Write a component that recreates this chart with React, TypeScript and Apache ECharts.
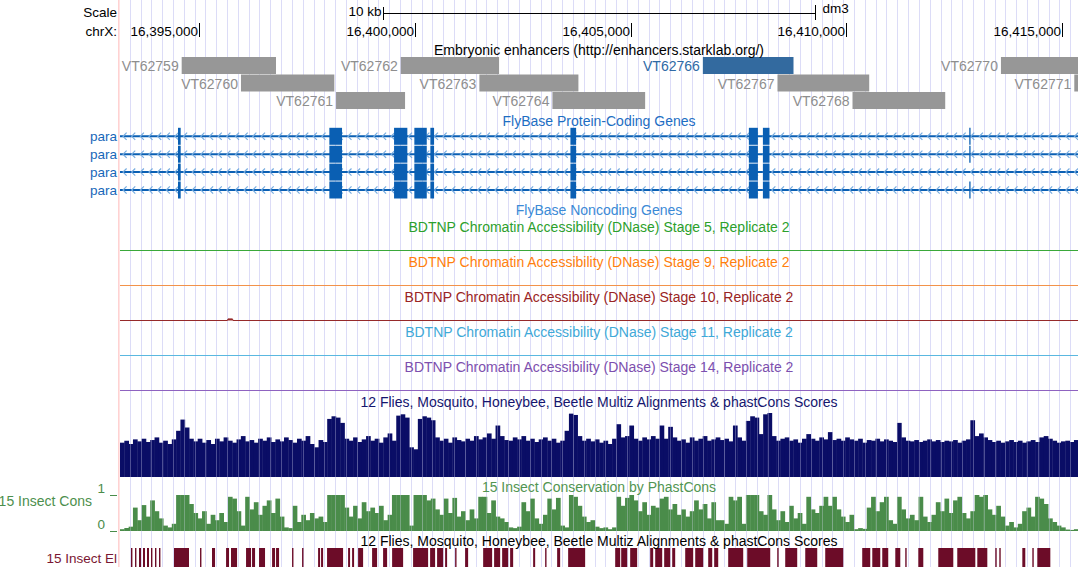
import React, { useEffect, useRef } from "react";
import * as echarts from "echarts";

// ---- Browser window (chrX, dm3) ----
const VIEW_START = 16393170;
const VIEW_END = 16415364;
const POSITION_TICKS = [16395000, 16400000, 16405000, 16410000, 16415000];
const SCALE_BAR_BP = 10000;
const SCALE_BAR_LABEL = "10 kb";
const ASSEMBLY = "dm3";
const CHROM_LABEL = "chrX:";

// ---- Embryonic enhancers (Stark lab VT tiles) ----
const ENHANCER_NAMES = ["VT62759", "VT62760", "VT62761", "VT62762", "VT62763", "VT62764", "VT62766", "VT62767", "VT62768", "VT62770", "VT62771"];
const ENHANCER_STARTS = [16394599, 16395973, 16398175, 16399674, 16401496, 16403188, 16406673, 16408402, 16410140, 16413579, 16415278];
const ENHANCER_ENDS = [16396784, 16398135, 16399774, 16401952, 16403790, 16405336, 16408773, 16410527, 16412288, 16415750, 16417400];
const ENHANCER_ROWS = [0, 1, 2, 0, 1, 2, 0, 1, 2, 0, 1];
const ENHANCER_ACTIVE = ["VT62766"];

// ---- FlyBase protein-coding gene "para", four isoforms ----
const GENE_NAMES = ["para", "para", "para", "para"];
const PARA_SHARED_EXONS = [
  [16394513, 16394576],
  [16398020, 16398314],
  [16399519, 16399827],
  [16399989, 16400277],
  [16400360, 16400446],
  [16403605, 16403737],
  [16407739, 16407948],
  [16408064, 16408217],
];
const PARA_ISOFORM_EXTRA_EXONS = [
  [[16412845, 16412868]],
  [[16412845, 16412868]],
  [],
  [[16412845, 16412868]],
];

// ---- BDTNP DNase accessibility (flat over this window) ----
const DNASE_TITLES = [
  "BDTNP Chromatin Accessibility (DNase) Stage 5, Replicate 2",
  "BDTNP Chromatin Accessibility (DNase) Stage 9, Replicate 2",
  "BDTNP Chromatin Accessibility (DNase) Stage 10, Replicate 2",
  "BDTNP Chromatin Accessibility (DNase) Stage 11, Replicate 2",
  "BDTNP Chromatin Accessibility (DNase) Stage 14, Replicate 2",
];
const DNASE_STAGE5 = [[VIEW_START, 0], [VIEW_END, 0]];
const DNASE_STAGE9 = [[VIEW_START, 0], [VIEW_END, 0]];
const DNASE_STAGE10 = [[VIEW_START, 0], [16395660, 0], [16395672, 0.08], [16395776, 0.08], [16395788, 0], [VIEW_END, 0]];
const DNASE_STAGE11 = [[VIEW_START, 0], [VIEW_END, 0]];
const DNASE_STAGE14 = [[VIEW_START, 0], [VIEW_END, 0]];

// ---- Conservation wiggles, fixedStep from VIEW_START ----
const WIG_STEP = 100;
const MULTIZ_SCORES = [
  0.52, 0.55, 0.50, 0.57, 0.54, 0.58, 0.53, 0.56, 0.60, 0.52,
  0.55, 0.50, 0.57, 0.70, 0.87, 0.75, 0.58, 0.54, 0.58, 0.52,
  0.56, 0.50, 0.58, 0.54, 0.60, 0.55, 0.52, 0.57, 0.62, 0.54,
  0.56, 0.52, 0.58, 0.55, 0.60, 0.53, 0.57, 0.54, 0.60, 0.56,
  0.52, 0.58, 0.55, 0.62, 0.50, 0.45, 0.56, 0.53, 0.88, 0.92,
  0.90, 0.82, 0.58, 0.55, 0.60, 0.53, 0.57, 0.62, 0.55, 0.58,
  0.52, 0.60, 0.66, 0.55, 0.93, 0.95, 0.90, 0.45, 0.42, 0.88,
  0.92, 0.90, 0.86, 0.60, 0.55, 0.58, 0.52, 0.60, 0.56, 0.54,
  0.58, 0.55, 0.62, 0.57, 0.60, 0.66, 0.58, 0.78, 0.62, 0.56,
  0.55, 0.60, 0.57, 0.62, 0.55, 0.58, 0.53, 0.57, 0.60, 0.55,
  0.58, 0.52, 0.55, 0.70, 0.96, 0.94, 0.62, 0.55, 0.58, 0.54,
  0.57, 0.52, 0.55, 0.50, 0.58, 0.80, 0.60, 0.62, 0.78, 0.58,
  0.55, 0.60, 0.57, 0.62, 0.58, 0.78, 0.58, 0.76, 0.60, 0.55,
  0.57, 0.52, 0.60, 0.55, 0.58, 0.62, 0.55, 0.57, 0.60, 0.56,
  0.58, 0.54, 0.78, 0.60, 0.55, 0.85, 0.92, 0.90, 0.65, 0.95,
  0.97, 0.62, 0.55, 0.58, 0.60, 0.55, 0.57, 0.52, 0.58, 0.65,
  0.58, 0.55, 0.60, 0.57, 0.68, 0.56, 0.58, 0.55, 0.60, 0.57,
  0.55, 0.58, 0.52, 0.56, 0.55, 0.58, 0.54, 0.57, 0.55, 0.53,
  0.82, 0.60, 0.55, 0.54, 0.56, 0.53, 0.55, 0.57, 0.54, 0.56,
  0.53, 0.55, 0.54, 0.56, 0.52, 0.55, 0.57, 0.86, 0.62, 0.66,
  0.60, 0.56, 0.53, 0.55, 0.52, 0.54, 0.56, 0.53, 0.55, 0.52,
  0.54, 0.56, 0.53, 0.60, 0.62, 0.58, 0.55, 0.52, 0.54, 0.55,
  0.53, 0.56,
];
const PHASTCONS_SCORES = [
  0.05, 0.08, 0.12, 0.65, 0.30, 0.72, 0.40, 0.85, 0.55, 0.35,
  0.15, 0.10, 0.20, 1, 1, 1, 0.75, 0.50, 0.35, 0.55,
  0.20, 0.45, 0.30, 0.50, 0.25, 0.95, 0.90, 0.55, 0.15, 0.95,
  0.60, 0.80, 0.45, 0.70, 0.85, 0.50, 0.90, 0.40, 0.10, 0.08,
  0.70, 0.25, 0.45, 0.30, 0.50, 0.35, 0.40, 0.25, 1, 1,
  1, 1, 0.65, 0.40, 0.70, 0.35, 0.80, 0.55, 0.65, 0.50,
  0.70, 0.30, 0.45, 1, 1, 1, 1, 0.15, 1, 1,
  1, 0.85, 0.90, 0.60, 0.45, 0.90, 0.50, 0.92, 0.40, 0.55,
  0.30, 0.60, 0.35, 0.95, 0.95, 0.50, 0.85, 0.40, 0.35, 0.25,
  0.10, 0.08, 0.12, 0.80, 0.55, 0.90, 0.35, 0.20, 0.45, 0.90,
  0.60, 0.92, 0.15, 0.10, 1, 0.95, 0.70, 0.40, 0.25, 0.30,
  0.12, 0.08, 0.10, 0.05, 0.10, 0.95, 0.70, 0.92, 1, 0.85,
  0.55, 0.80, 0.45, 0.70, 0.65, 0.90, 0.95, 0.60, 0.75, 0.45,
  0.60, 0.40, 0.55, 0.85, 0.60, 0.75, 0.35, 0.80, 0.30, 0.30,
  0.20, 0.95, 0.85, 0.95, 0.20, 1, 1, 1, 0.55, 0.45,
  1, 0.60, 0.30, 0.55, 0.25, 0.70, 0.35, 0.50, 0.20, 0.95,
  0.60, 0.50, 0.70, 0.95, 0.70, 0.95, 0.60, 0.40, 0.25, 0.45,
  0.05, 0.08, 0.06, 0.65, 0.95, 0.55, 0.80, 0.95, 0.30, 0.20,
  0.95, 0.60, 0.35, 0.45, 0.30, 0.95, 0.40, 0.25, 0.45, 0.80,
  0.55, 0.90, 0.50, 0.85, 0.95, 0.50, 0.35, 0.55, 1, 0.95,
  1, 0.60, 0.45, 0.70, 0.40, 0.15, 0.25, 0.10, 0.20, 0.55,
  0.65, 0.40, 0.95, 0.90, 0.75, 0.35, 0.25, 0.15, 0.10, 0.04,
  0.03, 0.05,
];

// ---- 15 insect conserved elements ----
const CONSERVED_ELEMENTS = [
  [16393425, 16393448], [16393518, 16393541], [16393610, 16393657], [16393703, 16393749],
  [16393796, 16393842], [16393888, 16393912], [16393981, 16394004], [16394074, 16394097],
  [16394421, 16394769], [16395024, 16395047], [16395302, 16395372], [16395627, 16395696],
  [16395742, 16395882], [16396090, 16396206], [16396229, 16396299], [16396391, 16396530],
  [16396693, 16396762], [16396785, 16396855], [16397156, 16397179], [16397388, 16397411],
  [16397759, 16397805], [16397828, 16397875], [16397967, 16398338], [16398454, 16398500],
  [16398547, 16398593], [16398686, 16398802], [16399010, 16399126], [16399265, 16399358],
  [16399474, 16399729], [16399960, 16400308], [16400354, 16400470], [16400516, 16400656],
  [16400702, 16400748], [16400934, 16400957], [16401165, 16401235], [16401583, 16401791],
  [16401837, 16401977], [16402023, 16402162], [16402208, 16402278], [16402741, 16402788],
  [16403019, 16403043], [16403297, 16403367], [16403552, 16403946], [16404642, 16404758],
  [16404781, 16404920], [16404989, 16405151], [16405453, 16405522], [16405569, 16405731],
  [16405777, 16405916], [16405963, 16406032], [16406264, 16406449], [16406496, 16406681],
  [16406797, 16406890], [16406936, 16407029], [16407260, 16407608], [16407701, 16408234],
  [16408396, 16408419], [16408581, 16408859], [16409045, 16409323], [16409508, 16409925],
  [16410365, 16410551], [16410598, 16410783], [16410829, 16410968], [16411131, 16411247],
  [16411362, 16411386], [16411664, 16411780], [16412127, 16412475], [16412567, 16412985],
  [16413031, 16413263], [16413448, 16413471], [16413541, 16413564], [16414074, 16414143],
  [16414306, 16414329], [16414421, 16414723],
];

// ---- Styling ----
const FONT = '"Liberation Sans", Arial, Helvetica, sans-serif';
const FS = 13.5;
const FS_TITLE = 14;
const GENE_BLUE = "#0a5fb3";
const CHEVRON_BLUE = "#78ade0";
const GUIDE_COLOR = "#dcdcf7";
const DNASE_COLORS = ["#2ca02c", "#ff7f0e", "#9a2424", "#3fa9d8", "#7d4fae"];
const DNASE_LINE_COLORS = ["#3aa83a", "#f3934a", "#962a2a", "#5ab8e0", "#8f63c0"];
const DNASE_LINE_Y = [250.5, 285.5, 320.5, 355.5, 390.5];
const DNASE_TITLE_Y = [226.5, 261.5, 296.5, 331.5, 366.5];
const MULTIZ_NAVY = "#0a0d66";
const CONS_GREEN = "#4a8c4a";
const ELEMENT_RED = "#6c0c28";
const ENH_ROW_TOP = [57, 74.5, 92];
const ENH_H = 17;
const GENE_ROW_CY = [136.3, 154.2, 172.1, 190.0];
const EXON_H = 17;

const PLOT_LEFT = 120;
const PLOT_WIDTH = 958;
const GUIDE_LEFT = 130;
const GUIDE_WIDTH = 940.5;
const GUIDE_COUNT = 87;

function txt(text: string, x: number, y: number, fill: string, align = "center", size = FS) {
  return {
    type: "text",
    x,
    y,
    silent: true,
    z: 50,
    style: {
      text,
      fill,
      fontSize: size,
      fontFamily: FONT,
      align,
      textAlign: align,
      verticalAlign: "middle",
      textVerticalAlign: "middle",
    },
  };
}

function guideAxis(gridIndex: number, z: number, opacity: number) {
  return {
    type: "value",
    gridIndex,
    min: 0,
    max: GUIDE_COUNT,
    interval: 1,
    z,
    axisLine: { show: false },
    axisTick: { show: false },
    axisLabel: { show: false },
    splitLine: { show: true, showMinLine: true, showMaxLine: true, lineStyle: { color: GUIDE_COLOR, width: 1, opacity } },
  };
}

function buildOption() {
  const genomicAxis = (gridIndex: number) => ({
    type: "value",
    gridIndex,
    min: VIEW_START,
    max: VIEW_END,
    show: false,
  });
  const unitY = (gridIndex: number) => ({ type: "value", gridIndex, min: 0, max: 1, show: false });

  const grids: any[] = [
    { left: PLOT_LEFT, width: PLOT_WIDTH, top: 0, height: 567 }, // 0 feature tracks
    { left: GUIDE_LEFT, width: GUIDE_WIDTH, top: 0, height: 567 }, // 1 base guidelines (under)
    { left: PLOT_LEFT, width: PLOT_WIDTH, top: 411, height: 66 }, // 2 multiz
    { left: PLOT_LEFT, width: PLOT_WIDTH, top: 495, height: 36 }, // 3 phastCons
    { left: GUIDE_LEFT, width: GUIDE_WIDTH, top: 411, height: 120 }, // 4 guidelines over wiggles
  ];
  DNASE_LINE_Y.forEach((y) => grids.push({ left: PLOT_LEFT, width: PLOT_WIDTH, top: y - 20, height: 20 }));

  const xAxes: any[] = [genomicAxis(0), guideAxis(1, 0, 1), genomicAxis(2), genomicAxis(3), guideAxis(4, 30, 0.32)];
  const yAxes: any[] = [
    unitY(0),
    { type: "value", gridIndex: 1, min: 0, max: 1, show: false },
    unitY(2),
    {
      type: "value",
      gridIndex: 3,
      min: 0,
      max: 1,
      interval: 1,
      position: "left",
      offset: 3,
      axisLine: { show: false },
      axisTick: { show: true, length: 7, lineStyle: { color: CONS_GREEN, width: 1 } },
      axisLabel: {
        show: true,
        color: CONS_GREEN,
        fontSize: FS,
        fontFamily: FONT,
        margin: 12,
        verticalAlign: "bottom",
      },
      splitLine: { show: false },
    },
    { type: "value", gridIndex: 4, min: 0, max: 1, show: false },
  ];
  DNASE_LINE_Y.forEach((_, i) => {
    xAxes.push(genomicAxis(5 + i));
    yAxes.push(unitY(5 + i));
  });

  const series: any[] = [];

  // Position ruler ticks + labels
  series.push({
    type: "custom",
    coordinateSystem: "cartesian2d",
    xAxisIndex: 0,
    yAxisIndex: 0,
    silent: true,
    z: 10,
    data: POSITION_TICKS.map((p) => [p, 0]),
    renderItem: (params: any, api: any) => {
      const pos = api.value(0) as number;
      const x = Math.round(api.coord([pos, 0])[0]) + 0.5;
      return {
        type: "group",
        children: [
          { type: "line", shape: { x1: x, y1: 23, x2: x, y2: 37 }, style: { stroke: "#000", lineWidth: 1 } },
          {
            type: "text",
            x: x - 1.5,
            y: 31,
            style: {
              text: pos.toLocaleString("en-US"),
              fill: "#000",
              fontSize: FS,
              fontFamily: FONT,
              align: "right",
              textAlign: "right",
              verticalAlign: "middle",
              textVerticalAlign: "middle",
            },
          },
        ],
      };
    },
  });

  // Scale bar, centred on the window
  const mid = (VIEW_START + VIEW_END) / 2;
  series.push({
    type: "custom",
    coordinateSystem: "cartesian2d",
    xAxisIndex: 0,
    yAxisIndex: 0,
    silent: true,
    z: 10,
    data: [[mid - SCALE_BAR_BP / 2, mid + SCALE_BAR_BP / 2]],
    renderItem: (params: any, api: any) => {
      const x1 = Math.round(api.coord([api.value(0), 0])[0]) + 0.5;
      const x2 = Math.round(api.coord([api.value(1), 0])[0]) + 0.5;
      const st = { stroke: "#000", lineWidth: 1 };
      return {
        type: "group",
        children: [
          { type: "line", shape: { x1, y1: 13.5, x2, y2: 13.5 }, style: st },
          { type: "line", shape: { x1, y1: 7, x2: x1, y2: 20 }, style: st },
          { type: "line", shape: { x1: x2, y1: 5, x2, y2: 20 }, style: st },
          {
            type: "text",
            x: x1 - 2,
            y: 11.5,
            style: { text: SCALE_BAR_LABEL, fill: "#000", fontSize: FS, fontFamily: FONT, align: "right", textAlign: "right", verticalAlign: "middle", textVerticalAlign: "middle" },
          },
          {
            type: "text",
            x: x2 + 7,
            y: 8.5,
            style: { text: ASSEMBLY, fill: "#000", fontSize: FS, fontFamily: FONT, align: "left", textAlign: "left", verticalAlign: "middle", textVerticalAlign: "middle" },
          },
        ],
      };
    },
  });

  // Enhancer tiles
  series.push({
    type: "custom",
    coordinateSystem: "cartesian2d",
    xAxisIndex: 0,
    yAxisIndex: 0,
    silent: true,
    z: 10,
    data: ENHANCER_STARTS.map((s, i) => [s, ENHANCER_ENDS[i], ENHANCER_ROWS[i]]),
    renderItem: (params: any, api: any) => {
      const i = params.dataIndex;
      const right = api.coord([VIEW_END, 0])[0];
      const x1 = api.coord([api.value(0), 0])[0];
      const x2 = Math.min(api.coord([api.value(1), 0])[0], right);
      const top = ENH_ROW_TOP[api.value(2) as number];
      const active = ENHANCER_ACTIVE.indexOf(ENHANCER_NAMES[i]) >= 0;
      return {
        type: "group",
        children: [
          { type: "rect", shape: { x: x1, y: top, width: Math.max(x2 - x1, 1), height: ENH_H }, style: { fill: active ? "#336a9f" : "#979797" } },
          {
            type: "text",
            x: x1 - 3,
            y: top + ENH_H / 2 + 0.5,
            style: {
              text: ENHANCER_NAMES[i],
              fill: active ? "#2f6aa5" : "#8e8e8e",
              fontSize: FS_TITLE,
              fontFamily: FONT,
              align: "right",
              textAlign: "right",
              verticalAlign: "middle",
              textVerticalAlign: "middle",
            },
          },
        ],
      };
    },
  });

  // para isoforms
  series.push({
    type: "custom",
    coordinateSystem: "cartesian2d",
    xAxisIndex: 0,
    yAxisIndex: 0,
    silent: true,
    z: 10,
    data: GENE_NAMES.map((_, r) => [VIEW_START, r]),
    renderItem: (params: any, api: any) => {
      const row = api.value(1) as number;
      const cy = GENE_ROW_CY[row];
      const xL = api.coord([VIEW_START, 0])[0];
      const xR = api.coord([VIEW_END, 0])[0];
      const children: any[] = [];
      children.push({ type: "rect", shape: { x: xL, y: cy - 1, width: xR - xL, height: 2 }, style: { fill: GENE_BLUE } });
      for (let x = xL + 3; x < xR - 3; x += 8.65) {
        children.push({
          type: "polyline",
          shape: { points: [[x + 3.6, cy - 3.6], [x, cy], [x + 3.6, cy + 3.6]] },
          style: { stroke: CHEVRON_BLUE, lineWidth: 1.2, fill: null },
        });
      }
      const exons = PARA_SHARED_EXONS.concat(PARA_ISOFORM_EXTRA_EXONS[row] as number[][]);
      exons.forEach(([s, e]) => {
        const a = api.coord([s, 0])[0];
        const b = api.coord([e, 0])[0];
        children.push({
          type: "rect",
          shape: { x: a, y: cy - EXON_H / 2, width: Math.max(b - a, 1.3), height: EXON_H },
          style: { fill: GENE_BLUE },
        });
      });
      return { type: "group", children };
    },
  });

  // DNase tracks
  [DNASE_STAGE5, DNASE_STAGE9, DNASE_STAGE10, DNASE_STAGE11, DNASE_STAGE14].forEach((d, i) => {
    series.push({
      type: "line",
      xAxisIndex: 5 + i,
      yAxisIndex: 5 + i,
      data: d,
      symbol: "none",
      silent: true,
      z: 10,
      lineStyle: { color: DNASE_LINE_COLORS[i], width: 1 },
      areaStyle: { color: DNASE_LINE_COLORS[i], opacity: 1 },
    });
  });

  // Multiz / phastCons wiggle bars
  const wiggle = (scores: number[], gridIndex: number, color: string) => ({
    type: "custom",
    coordinateSystem: "cartesian2d",
    xAxisIndex: gridIndex,
    yAxisIndex: gridIndex,
    silent: true,
    clip: true,
    z: 10,
    data: scores.map((v, i) => [i, v]),
    renderItem: (params: any, api: any) => {
      const i = api.value(0) as number;
      const v = api.value(1) as number;
      const s = VIEW_START + i * WIG_STEP;
      const p0 = api.coord([s, 0]);
      const p1 = api.coord([s + WIG_STEP, v]);
      return {
        type: "rect",
        shape: { x: p0[0], y: p1[1], width: p1[0] - p0[0] + 0.4, height: Math.max(p0[1] - p1[1], 1) },
        style: { fill: color },
      };
    },
  });
  series.push(wiggle(MULTIZ_SCORES, 2, MULTIZ_NAVY));
  series.push(wiggle(PHASTCONS_SCORES, 3, CONS_GREEN));

  // Conserved elements
  series.push({
    type: "custom",
    coordinateSystem: "cartesian2d",
    xAxisIndex: 0,
    yAxisIndex: 0,
    silent: true,
    z: 10,
    data: CONSERVED_ELEMENTS,
    renderItem: (params: any, api: any) => {
      const a = api.coord([api.value(0), 0])[0];
      const b = api.coord([api.value(1), 0])[0];
      return {
        type: "rect",
        shape: { x: a, y: 548, width: Math.max(b - a, 1.4), height: 20 },
        style: { fill: ELEMENT_RED },
      };
    },
  });

  const graphics: any[] = [
    { type: "rect", shape: { x: 118, y: 0, width: 1.6, height: 567 }, style: { fill: "#ffd2d2" }, silent: true, z: 5 },
    txt("Scale", 117, 12.5, "#000", "right"),
    txt(CHROM_LABEL, 117, 31, "#000", "right"),
    txt("Embryonic enhancers (http://enhancers.starklab.org/)", 599, 49.5, "#000", "center", FS_TITLE),
    txt("FlyBase Protein-Coding Genes", 599, 120.5, "#1d6ec3", "center", FS_TITLE),
    txt("FlyBase Noncoding Genes", 599, 209.5, "#3b8ad6", "center", FS_TITLE),
    txt("12 Flies, Mosquito, Honeybee, Beetle Multiz Alignments & phastCons Scores", 599, 401.5, "#15156e", "center", FS_TITLE),
    txt("15 Insect Conservation by PhastCons", 599, 487, "#529552", "center", FS_TITLE),
    txt("15 Insect Cons", 92, 501, "#4d8f4d", "right", FS_TITLE),
    txt("12 Flies, Mosquito, Honeybee, Beetle Multiz Alignments & phastCons Scores", 599, 540.5, "#000", "center", FS_TITLE),
    txt("15 Insect El", 117, 558, "#7a1632", "right"),
  ];
  GENE_NAMES.forEach((n, r) => graphics.push(txt(n, 117, GENE_ROW_CY[r], "#1767b9", "right")));
  DNASE_TITLES.forEach((t, i) => graphics.push(txt(t, 599, DNASE_TITLE_Y[i], DNASE_COLORS[i], "center", FS_TITLE)));

  return {
    animation: false,
    backgroundColor: "#ffffff",
    grid: grids,
    xAxis: xAxes,
    yAxis: yAxes,
    series,
    graphic: { elements: graphics },
  };
}

export default function App() {
  const ref = useRef<HTMLDivElement>(null);
  useEffect(() => {
    if (!ref.current) return;
    const chart = echarts.init(ref.current, undefined, { renderer: "svg" });
    chart.setOption(buildOption() as any);
    return () => chart.dispose();
  }, []);
  return (
    <div
      ref={ref}
      style={{ position: "absolute", left: 0, top: 0, width: 1078, height: 567, background: "#fff" }}
    />
  );
}
